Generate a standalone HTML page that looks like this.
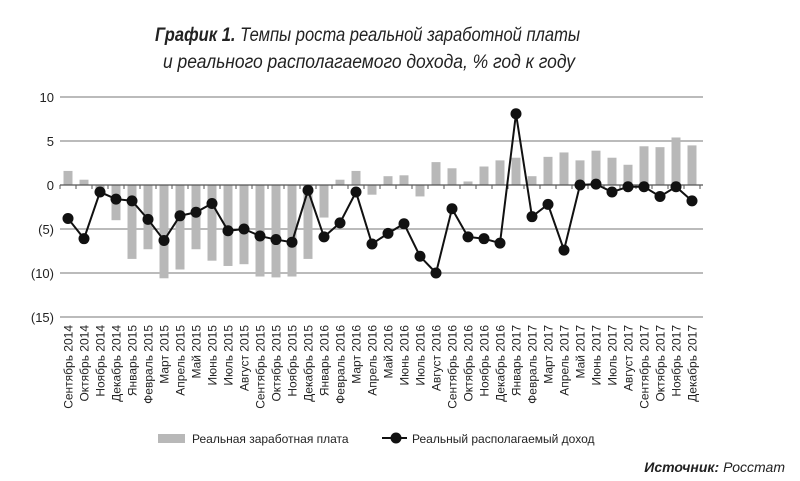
<!DOCTYPE html>
<html><head><meta charset="utf-8">
<style>
body{margin:0;background:#fff;}
svg{display:block;font-family:"Liberation Sans","DejaVu Sans",sans-serif;}
</style></head>
<body>
<svg id="chart" width="800" height="481" viewBox="0 0 800 481">
  <text x="155" y="41" font-size="19" font-style="italic" fill="#222" textLength="425" lengthAdjust="spacingAndGlyphs"><tspan font-weight="bold">График 1.</tspan> Темпы роста реальной заработной платы</text>
  <text x="163" y="68" font-size="19" font-style="italic" fill="#222" textLength="412" lengthAdjust="spacingAndGlyphs">и реального располагаемого дохода, %  год к году</text>
  <g id="grid"></g>
  <g id="bars"></g>
  <g id="xaxis"></g>
  <g id="line"></g>
  <g id="labels"></g>
  <g>
    <rect x="158" y="434" width="27" height="9" fill="#b8b8b8"/>
    <text x="192" y="443" font-size="12" fill="#222">Реальная заработная плата</text>
    <line x1="382" y1="438" x2="407" y2="438" stroke="#111" stroke-width="2"/>
    <circle cx="396" cy="438" r="5.5" fill="#111"/>
    <text x="412" y="443" font-size="12" fill="#222">Реальный располагаемый доход</text>
  </g>
  <text x="785" y="472" font-size="14" font-style="italic" fill="#222" text-anchor="end"><tspan font-weight="bold">Источник:</tspan> Росстат</text>
</svg>
<script>
const categories=["Сентябрь 2014","Октябрь 2014","Ноябрь 2014","Декабрь 2014","Январь 2015","Февраль 2015","Март 2015","Апрель 2015","Май 2015","Июнь 2015","Июль 2015","Август 2015","Сентябрь 2015","Октябрь 2015","Ноябрь 2015","Декабрь 2015","Январь 2016","Февраль 2016","Март 2016","Апрель 2016","Май 2016","Июнь 2016","Июль 2016","Август 2016","Сентябрь 2016","Октябрь 2016","Ноябрь 2016","Декабрь 2016","Январь 2017","Февраль 2017","Март 2017","Апрель 2017","Май 2017","Июнь 2017","Июль 2017","Август 2017","Сентябрь 2017","Октябрь 2017","Ноябрь 2017","Декабрь 2017"];
const wages=[1.6,0.6,-0.5,-4.0,-8.4,-7.3,-10.6,-9.6,-7.3,-8.6,-9.2,-9.0,-10.4,-10.5,-10.4,-8.4,-3.7,0.6,1.6,-1.1,1.0,1.1,-1.3,2.6,1.9,0.4,2.1,2.8,3.1,1.0,3.2,3.7,2.8,3.9,3.1,2.3,4.4,4.3,5.4,4.5];
const income=[-3.8,-6.1,-0.8,-1.6,-1.8,-3.9,-6.3,-3.5,-3.1,-2.1,-5.2,-5.0,-5.8,-6.2,-6.5,-0.6,-5.9,-4.3,-0.8,-6.7,-5.5,-4.4,-8.1,-10.0,-2.7,-5.9,-6.1,-6.6,8.1,-3.6,-2.2,-7.4,0.0,0.1,-0.8,-0.2,-0.2,-1.3,-0.2,-1.8];
const yTicks=[10,5,0,-5,-10,-15];
const yTickLabels=["10","5","0","(5)","(10)","(15)"];

const NS="http://www.w3.org/2000/svg";
const X0=60,X1=700,band=(X1-X0)/categories.length;
function xc(i){return X0+band*(i+0.5);}
function y(v){return 185-v*8.8;}
function mk(tag,attrs,parent){const e=document.createElementNS(NS,tag);for(const k in attrs)e.setAttribute(k,attrs[k]);parent.appendChild(e);return e;}
const grid=document.getElementById('grid'),bars=document.getElementById('bars'),xa=document.getElementById('xaxis'),ln=document.getElementById('line'),lb=document.getElementById('labels');

yTicks.forEach((t,i)=>{
  if(t!==0){const l=mk('line',{x1:X0,x2:X1+3,y1:y(t),y2:y(t),stroke:'#777','stroke-width':1},grid);
  
  }
  const tx=mk('text',{x:54,y:y(t)+5,'font-size':13,fill:'#222','text-anchor':'end'},grid);
  tx.textContent=yTickLabels[i];
  
  
});
wages.forEach((v,i)=>{
  const r=mk('rect',{x:xc(i)-4.5,width:9,y:Math.min(y(v),y(0)),height:Math.abs(y(v)-y(0)),fill:'#b8b8b8'},bars);
  
  
});
const ax=mk('line',{x1:X0,x2:X1+3,y1:y(0),y2:y(0),stroke:'#555','stroke-width':1.2},xa);


for(let i=0;i<=categories.length;i++){
  const tk=mk('line',{x1:X0+band*i,x2:X0+band*i,y1:y(0),y2:y(0)+4,stroke:'#555'},xa);
  
  
}
const pl=mk('polyline',{points:income.map((v,i)=>xc(i)+','+y(v)).join(' '),fill:'none',stroke:'#111','stroke-width':2},ln);


income.forEach((v,i)=>{
  const c=mk('circle',{cx:xc(i),cy:y(v),r:5.5,fill:'#111'},ln);
  
  
});
categories.forEach((c,i)=>{
  const t=mk('text',{transform:`translate(${xc(i)+4.5},325) rotate(-90)`,'font-size':12,fill:'#222','text-anchor':'end'},lb);
  t.textContent=c;
  
  
});
</script>
</body></html>
